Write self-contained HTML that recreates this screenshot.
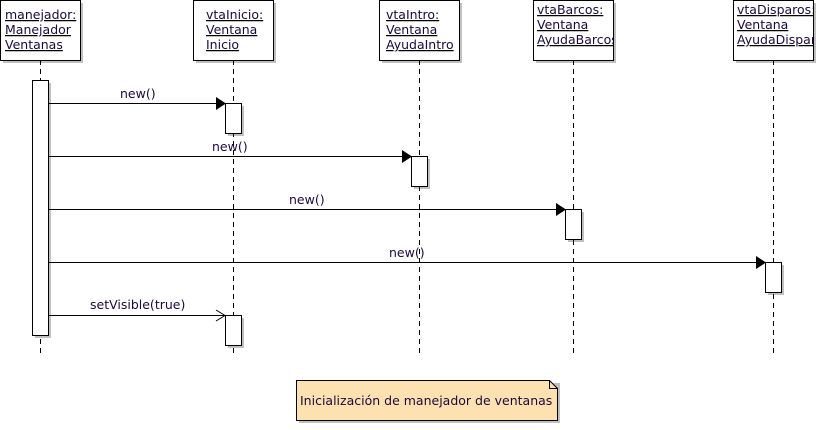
<!DOCTYPE html>
<html><head><meta charset="utf-8"><style>
body{margin:0;background:#fff;width:818px;height:425px;overflow:hidden}
svg text{font-family:"DejaVu Sans",sans-serif;font-size:12.5px;fill:#1a0a3a}
</style></head><body>
<svg width="818" height="425" xmlns="http://www.w3.org/2000/svg">
<defs><clipPath id="c1"><rect x="533" y="0" width="80" height="60"/></clipPath>
<clipPath id="c2"><rect x="733" y="0" width="80" height="60"/></clipPath></defs>
<g fill="#c0c0c0">
<rect x="3" y="3" width="80" height="60"/><rect x="196" y="3" width="80" height="60"/>
<rect x="382" y="3" width="80" height="60"/><rect x="536" y="3" width="80" height="60"/>
<rect x="736" y="3" width="80" height="60"/>
<rect x="35" y="83" width="16" height="255"/>
<rect x="228" y="106" width="16" height="30"/><rect x="414" y="159" width="16" height="30"/>
<rect x="568" y="212" width="16" height="30"/><rect x="768" y="265" width="16" height="30"/>
<rect x="228" y="318" width="16" height="30"/>
<polygon points="299,383 560,383 560,423 299,423"/>
</g>
<g stroke="#000" stroke-dasharray="5,4">
<line x1="40.5" y1="60" x2="40.5" y2="356"/><line x1="233.5" y1="60" x2="233.5" y2="356"/>
<line x1="419.5" y1="60" x2="419.5" y2="356"/><line x1="573.5" y1="60" x2="573.5" y2="356"/>
<line x1="773.5" y1="60" x2="773.5" y2="356"/>
</g>
<g fill="#fff" stroke="#000">
<rect x="0.5" y="0.5" width="80" height="60"/><rect x="193.5" y="0.5" width="80" height="60"/>
<rect x="379.5" y="0.5" width="80" height="60"/><rect x="533.5" y="0.5" width="80" height="60"/>
<rect x="733.5" y="0.5" width="80" height="60"/>
<rect x="32.5" y="80.5" width="16" height="255"/>
<rect x="225.5" y="103.5" width="16" height="30"/><rect x="411.5" y="156.5" width="16" height="30"/>
<rect x="565.5" y="209.5" width="16" height="30"/><rect x="765.5" y="262.5" width="16" height="30"/>
<rect x="225.5" y="315.5" width="16" height="30"/>
<polygon points="296.5,380.5 549.5,380.5 557.5,388.5 557.5,420.5 296.5,420.5" fill="#fde1b1"/>
<polyline points="549.5,380.5 549.5,388.5 557.5,388.5" fill="none"/>
</g>
<g text-decoration="underline">
<text x="5" y="19">manejador:</text><text x="5" y="34">Manejador</text><text x="5" y="49">Ventanas</text>
<text x="206" y="19">vtaInicio:</text><text x="206" y="34">Ventana</text><text x="206" y="49">Inicio</text>
<text x="386" y="19">vtaIntro:</text><text x="386" y="34">Ventana</text><text x="386" y="49">AyudaIntro</text>
<g clip-path="url(#c1)"><text x="537" y="14">vtaBarcos:</text><text x="537" y="29">Ventana</text><text x="537" y="44">AyudaBarcos</text></g>
<g clip-path="url(#c2)"><text x="737" y="14">vtaDisparos:</text><text x="737" y="29">Ventana</text><text x="737" y="44">AyudaDisparos</text></g>
</g>
<g stroke="#000">
<line x1="48" y1="103.5" x2="218" y2="103.5"/><line x1="48" y1="156.5" x2="404" y2="156.5"/>
<line x1="48" y1="209.5" x2="558" y2="209.5"/><line x1="48" y1="262.5" x2="758" y2="262.5"/>
<line x1="48" y1="315.5" x2="225" y2="315.5"/>
<polyline points="216,310 225,315.5 216,321" fill="none"/>
</g>
<g fill="#000">
<polygon points="216,97 226,103.5 216,110"/><polygon points="402,150 412,156.5 402,163"/>
<polygon points="556,203 566,209.5 556,216"/><polygon points="756,256 766,262.5 756,269"/>
</g>
<text x="120" y="98">new()</text><text x="212" y="151">new()</text>
<text x="289" y="204">new()</text><text x="389" y="257">new()</text>
<text x="90" y="309">setVisible(true)</text>
<text x="300" y="405">Inicialización de manejador de ventanas</text>
</svg>
</body></html>
